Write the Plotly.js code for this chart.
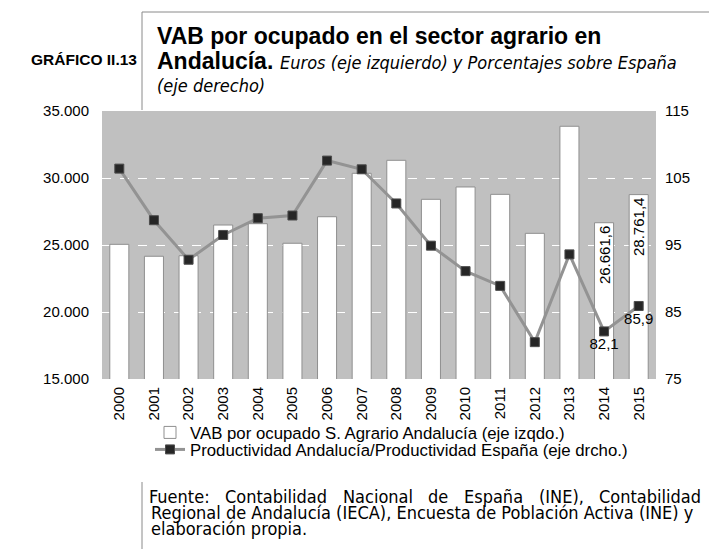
<!DOCTYPE html>
<html>
<head>
<meta charset="utf-8">
<script src="https://cdn.plot.ly/plotly-3.0.1.min.js"></script>
<style>
  html, body { margin: 0; padding: 0; background: #fff; }
  #chart { width: 709px; height: 549px; }
</style>
</head>
<body>
<div id="chart"></div>
<script>
// ---- Data ----
const years = ['2000','2001','2002','2003','2004','2005','2006','2007','2008','2009','2010','2011','2012','2013','2014','2015'];
const vabOcupado = [25050, 24160, 24200, 26490, 26590, 25130, 27110, 30350, 31320, 28410, 29330, 28780, 25870, 33860, 26661.6, 28761.4];
const productividad = [106.4, 98.7, 92.8, 96.5, 99.0, 99.4, 107.6, 106.3, 101.2, 94.9, 91.1, 88.9, 80.5, 93.6, 82.1, 85.9];
const labeledYears = ['2014', '2015'];
const leftTicks = [15000, 20000, 25000, 30000, 35000];
const rightTicks = [75, 85, 95, 105, 115];

// ---- Geometry helpers (plot area in pixels) ----
const W = 709, H = 549;
const M = { l: 102, r: 53, t: 111, b: 170 };
const PW = W - M.l - M.r, PH = H - M.t - M.b;
const px = x => (x - M.l) / PW;
const py = y => (H - M.b - y) / PH;

const barTrace = {
  type: 'bar',
  x: years,
  y: vabOcupado,
  name: 'VAB por ocupado S. Agrario Andalucía (eje izqdo.)',
  legend: 'legend',
  marker: { color: '#ffffff', line: { color: '#8f8f8f', width: 1 } },
  texttemplate: years.map(y => labeledYears.includes(y) ? '%{y:,.1f}' : ''),
  textposition: 'inside',
  insidetextanchor: 'end',
  textangle: -90,
  constraintext: 'none',
  insidetextfont: { family: 'Liberation Sans, Arial, sans-serif', size: 15, color: '#000' },
  hoverinfo: 'skip'
};

const lineTrace = {
  type: 'scatter',
  mode: 'lines+markers+text',
  x: years,
  y: productividad,
  yaxis: 'y2',
  legend: 'legend2',
  name: 'Productividad Andalucía/Productividad España (eje drcho.)',
  line: { color: '#939393', width: 3 },
  marker: { symbol: 'square', size: 9, color: '#262626', line: { color: '#4d4d4d', width: 1 } },
  texttemplate: years.map(y => labeledYears.includes(y) ? '%{y:.1f}' : ''),
  textposition: 'bottom center',
  textfont: { family: 'Liberation Sans, Arial, sans-serif', size: 15, color: '#000' },
  hoverinfo: 'skip'
};

const titleFont = 'Liberation Sans, Arial, sans-serif';
const condFont = 'DejaVu Sans Condensed, DejaVu Sans, sans-serif';

const annotations = [
  { text: '<b>GRÁFICO II.13</b>', x: px(139), y: py(59), xanchor: 'right', yanchor: 'middle',
    font: { family: titleFont, size: 15.5, color: '#000' } },
  { text: '<b>VAB por ocupado en el sector agrario en</b>', x: px(155), y: py(36), xanchor: 'left', yanchor: 'middle',
    font: { family: titleFont, size: 23, color: '#000' } },
  { text: '<b>Andalucía.</b>', x: px(155), y: py(61), xanchor: 'left', yanchor: 'middle',
    font: { family: titleFont, size: 23, color: '#000' } },
  { text: '<i>Euros (eje izquierdo) y Porcentajes sobre España</i>', x: px(278), y: py(62), xanchor: 'left', yanchor: 'middle',
    font: { family: condFont, size: 18, color: '#000' } },
  { text: '<i>(eje derecho)</i>', x: px(155), y: py(86), xanchor: 'left', yanchor: 'middle',
    font: { family: condFont, size: 18, color: '#000' } }
];

// Footnote: first line justified between FOOT_L and FOOT_R
const footSize = 18;
const FOOT_L = 149, FOOT_R = 701;
const footLine1 = ['Fuente:', 'Contabilidad', 'Nacional', 'de', 'España', '(INE),', 'Contabilidad'];
const footLine1Idx = [];
footLine1.forEach((w, i) => {
  footLine1Idx.push(annotations.length);
  annotations.push({ text: w, x: px(FOOT_L + i * 75), y: py(496), xanchor: 'left', yanchor: 'middle',
    font: { family: condFont, size: footSize, color: '#000' } });
});
annotations.push({ text: 'Regional de Andalucía (IECA), Encuesta de Población Activa (INE) y', x: px(FOOT_L), y: py(512), xanchor: 'left', yanchor: 'middle',
  font: { family: condFont, size: footSize, color: '#000' } });
annotations.push({ text: 'elaboración propia.', x: px(FOOT_L), y: py(528), xanchor: 'left', yanchor: 'middle',
  font: { family: condFont, size: footSize, color: '#000' } });
annotations.forEach(a => { a.xref = 'paper'; a.yref = 'paper'; a.showarrow = false; a.align = 'left'; });

const frameColor = '#8a8a8a';
const shapes = [
  { type: 'line', x0: px(142), x1: px(709), y0: py(12), y1: py(12) },
  { type: 'line', x0: px(142), x1: px(142), y0: py(12), y1: py(110) },
  { type: 'line', x0: px(142), x1: px(142), y0: py(482), y1: py(549) }
].map(s => Object.assign(s, { xref: 'paper', yref: 'paper', line: { color: frameColor, width: 1 } }));

const legendBase = {
  xanchor: 'left', yanchor: 'top', bgcolor: 'rgba(0,0,0,0)',
  font: { family: 'Liberation Sans, Arial, sans-serif', size: 16.8, color: '#000' },
  itemwidth: 30, borderwidth: 0
};

const layout = {
  width: W, height: H,
  margin: Object.assign({ autoexpand: false }, M),
  paper_bgcolor: '#ffffff',
  plot_bgcolor: '#c0c0c0',
  separators: ',.',
  font: { family: 'Liberation Sans, Arial, sans-serif', size: 15, color: '#000' },
  showlegend: true,
  legend: Object.assign({ x: px(150), y: py(415) }, legendBase),
  legend2: Object.assign({ x: px(150), y: py(432) }, legendBase),
  bargap: 0.45,
  xaxis: {
    type: 'category', range: [-0.5, 15.5], autorange: false, tickangle: -90, showgrid: false, ticks: '', showline: false,
    tickfont: { size: 15, color: '#000' }, ticklabelstandoff: 4
  },
  yaxis: {
    range: [15000, 35000], tickvals: leftTicks, tickformat: ',.0f',
    showgrid: true, gridcolor: '#ffffff', griddash: 'dash', gridwidth: 1,
    zeroline: false, showline: false, ticks: '', ticklabelstandoff: 12,
    tickfont: { size: 15, color: '#000' }
  },
  yaxis2: {
    range: [75, 115], tickvals: rightTicks, overlaying: 'y', side: 'right',
    showgrid: false, zeroline: false, showline: false, ticks: '', ticklabelstandoff: 8,
    tickfont: { size: 15, color: '#000' }
  },
  annotations: annotations,
  shapes: shapes
};

Plotly.newPlot('chart', [barTrace, lineTrace], layout, { staticPlot: true, displayModeBar: false }).then(gd => {
  // justify the first footnote line using measured word widths
  const nodes = gd.querySelectorAll('.annotation');
  const widths = footLine1Idx.map(i => {
    const t = nodes[i] && nodes[i].querySelector('text');
    return t ? t.getBBox().width : 60;
  });
  const total = widths.reduce((a, b) => a + b, 0);
  const gap = (FOOT_R - FOOT_L - total) / (widths.length - 1);
  const upd = {};
  let cx = FOOT_L;
  footLine1Idx.forEach((idx, k) => {
    upd['annotations[' + idx + '].x'] = px(cx - 2);
    cx += widths[k] + gap;
  });
  return Plotly.relayout(gd, upd);
});
</script>
</body>
</html>
